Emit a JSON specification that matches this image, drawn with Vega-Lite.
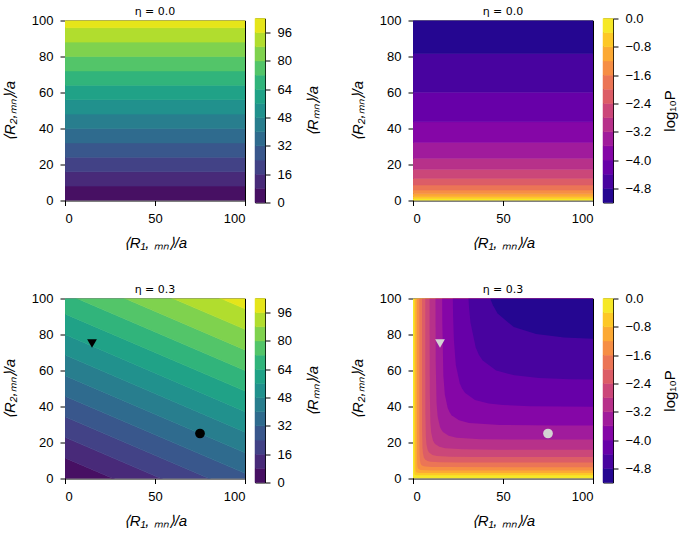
{
  "$schema": "https://vega.github.io/schema/vega-lite/v6.json",
  "padding": {"left": 1, "top": 4.5, "right": 0, "bottom": 0},
  "background": "white",
  "columns": 5,
  "align": "each",
  "bounds": "flush",
  "center": true,
  "spacing": {"row": 96, "column": 10},
  "resolve": {"scale": {"color": "independent", "stroke": "independent", "x": "independent", "y": "independent", "shape": "independent"}},
  "datasets": {
    "bandsR": [
      {"lo": 0, "hi": 8, "R": 4}, {"lo": 8, "hi": 16, "R": 12}, {"lo": 16, "hi": 24, "R": 20},
      {"lo": 24, "hi": 32, "R": 28}, {"lo": 32, "hi": 40, "R": 36}, {"lo": 40, "hi": 48, "R": 44},
      {"lo": 48, "hi": 56, "R": 52}, {"lo": 56, "hi": 64, "R": 60}, {"lo": 64, "hi": 72, "R": 68},
      {"lo": 72, "hi": 80, "R": 76}, {"lo": 80, "hi": 88, "R": 84}, {"lo": 88, "hi": 96, "R": 92},
      {"lo": 96, "hi": 104, "R": 100}
    ],
    "bandsP0": [
      {"lo": 0, "hi": 1.1, "P": -0.2}, {"lo": 1.1, "hi": 2.2, "P": -0.6}, {"lo": 2.2, "hi": 3.7, "P": -1.0},
      {"lo": 3.7, "hi": 5.8, "P": -1.4}, {"lo": 5.8, "hi": 8.6, "P": -1.8}, {"lo": 8.6, "hi": 12.3, "P": -2.2},
      {"lo": 12.3, "hi": 17.4, "P": -2.6}, {"lo": 17.4, "hi": 23.5, "P": -3.0}, {"lo": 23.5, "hi": 32.3, "P": -3.4},
      {"lo": 32.3, "hi": 43.8, "P": -3.8}, {"lo": 43.8, "hi": 60.2, "P": -4.2}, {"lo": 60.2, "hi": 81.7, "P": -4.6},
      {"lo": 81.7, "hi": 100, "P": -5.0}
    ],
    "cbP": [
      {"lo": -5.2, "hi": -4.8, "P": -5.0}, {"lo": -4.8, "hi": -4.4, "P": -4.6}, {"lo": -4.4, "hi": -4.0, "P": -4.2},
      {"lo": -4.0, "hi": -3.6, "P": -3.8}, {"lo": -3.6, "hi": -3.2, "P": -3.4}, {"lo": -3.2, "hi": -2.8, "P": -3.0},
      {"lo": -2.8, "hi": -2.4, "P": -2.6}, {"lo": -2.4, "hi": -2.0, "P": -2.2}, {"lo": -2.0, "hi": -1.6, "P": -1.8},
      {"lo": -1.6, "hi": -1.2, "P": -1.4}, {"lo": -1.2, "hi": -0.8, "P": -1.0}, {"lo": -0.8, "hi": -0.4, "P": -0.6},
      {"lo": -0.4, "hi": 0.0, "P": -0.2}
    ],
    "bandsR3": [
      {"c": 0, "R": 4, "x": 0, "lo": 0, "hi": 11.43}, {"c": 0, "R": 4, "x": 100, "lo": -42.86, "hi": -31.43},
      {"c": 8, "R": 12, "x": 0, "lo": 11.43, "hi": 22.86}, {"c": 8, "R": 12, "x": 100, "lo": -31.43, "hi": -20},
      {"c": 16, "R": 20, "x": 0, "lo": 22.86, "hi": 34.29}, {"c": 16, "R": 20, "x": 100, "lo": -20, "hi": -8.57},
      {"c": 24, "R": 28, "x": 0, "lo": 34.29, "hi": 45.71}, {"c": 24, "R": 28, "x": 100, "lo": -8.57, "hi": 2.86},
      {"c": 32, "R": 36, "x": 0, "lo": 45.71, "hi": 57.14}, {"c": 32, "R": 36, "x": 100, "lo": 2.86, "hi": 14.29},
      {"c": 40, "R": 44, "x": 0, "lo": 57.14, "hi": 68.57}, {"c": 40, "R": 44, "x": 100, "lo": 14.29, "hi": 25.71},
      {"c": 48, "R": 52, "x": 0, "lo": 68.57, "hi": 80}, {"c": 48, "R": 52, "x": 100, "lo": 25.71, "hi": 37.14},
      {"c": 56, "R": 60, "x": 0, "lo": 80, "hi": 91.43}, {"c": 56, "R": 60, "x": 100, "lo": 37.14, "hi": 48.57},
      {"c": 64, "R": 68, "x": 0, "lo": 91.43, "hi": 102.86}, {"c": 64, "R": 68, "x": 100, "lo": 48.57, "hi": 60},
      {"c": 72, "R": 76, "x": 0, "lo": 102.86, "hi": 114.29}, {"c": 72, "R": 76, "x": 100, "lo": 60, "hi": 71.43},
      {"c": 80, "R": 84, "x": 0, "lo": 114.29, "hi": 125.71}, {"c": 80, "R": 84, "x": 100, "lo": 71.43, "hi": 82.86},
      {"c": 88, "R": 92, "x": 0, "lo": 125.71, "hi": 137.14}, {"c": 88, "R": 92, "x": 100, "lo": 82.86, "hi": 94.29},
      {"c": 96, "R": 100, "x": 0, "lo": 137.14, "hi": 148.57}, {"c": 96, "R": 100, "x": 100, "lo": 94.29, "hi": 105.71}
    ],
    "curves": [
      {"l": -0.4, "x": 0.7, "y": 100}, {"l": -0.4, "x": 0.702, "y": 9}, {"l": -0.4, "x": 0.71, "y": 5.4}, {"l": -0.4, "x": 0.74, "y": 3.5}, {"l": -0.4, "x": 0.77, "y": 2.86}, {"l": -0.4, "x": 0.84, "y": 2.4}, {"l": -0.4, "x": 0.88, "y": 2.27}, {"l": -0.4, "x": 0.93, "y": 2.16}, {"l": -0.4, "x": 1.11, "y": 1.98}, {"l": -0.4, "x": 1.36, "y": 1.89}, {"l": -0.4, "x": 2.1, "y": 1.82}, {"l": -0.4, "x": 3.5, "y": 1.8}, {"l": -0.4, "x": 100, "y": 1.8},
      {"l": -0.8, "x": 1.3, "y": 100}, {"l": -0.8, "x": 1.305, "y": 15}, {"l": -0.8, "x": 1.32, "y": 9}, {"l": -0.8, "x": 1.37, "y": 5.83}, {"l": -0.8, "x": 1.43, "y": 4.77}, {"l": -0.8, "x": 1.56, "y": 4.0}, {"l": -0.8, "x": 1.64, "y": 3.78}, {"l": -0.8, "x": 1.73, "y": 3.6}, {"l": -0.8, "x": 2.07, "y": 3.3}, {"l": -0.8, "x": 2.53, "y": 3.15}, {"l": -0.8, "x": 3.9, "y": 3.04}, {"l": -0.8, "x": 6.5, "y": 3.01}, {"l": -0.8, "x": 100, "y": 3.0},
      {"l": -1.2, "x": 2.2, "y": 100}, {"l": -1.2, "x": 2.21, "y": 22.5}, {"l": -1.2, "x": 2.23, "y": 13.5}, {"l": -1.2, "x": 2.31, "y": 8.74}, {"l": -1.2, "x": 2.42, "y": 7.16}, {"l": -1.2, "x": 2.64, "y": 6.0}, {"l": -1.2, "x": 2.77, "y": 5.67}, {"l": -1.2, "x": 2.93, "y": 5.4}, {"l": -1.2, "x": 3.5, "y": 4.95}, {"l": -1.2, "x": 4.27, "y": 4.73}, {"l": -1.2, "x": 6.6, "y": 4.56}, {"l": -1.2, "x": 11, "y": 4.51}, {"l": -1.2, "x": 100, "y": 4.5},
      {"l": -1.6, "x": 3.5, "y": 100}, {"l": -1.6, "x": 3.51, "y": 31.5}, {"l": -1.6, "x": 3.54, "y": 18.9}, {"l": -1.6, "x": 3.68, "y": 12.24}, {"l": -1.6, "x": 3.85, "y": 10.02}, {"l": -1.6, "x": 4.2, "y": 8.4}, {"l": -1.6, "x": 4.41, "y": 7.94}, {"l": -1.6, "x": 4.67, "y": 7.56}, {"l": -1.6, "x": 5.57, "y": 6.93}, {"l": -1.6, "x": 6.8, "y": 6.62}, {"l": -1.6, "x": 10.5, "y": 6.38}, {"l": -1.6, "x": 17.5, "y": 6.32}, {"l": -1.6, "x": 100, "y": 6.3},
      {"l": -2.0, "x": 5.0, "y": 100}, {"l": -2.0, "x": 5.01, "y": 44.5}, {"l": -2.0, "x": 5.06, "y": 26.7}, {"l": -2.0, "x": 5.25, "y": 17.3}, {"l": -2.0, "x": 5.5, "y": 14.15}, {"l": -2.0, "x": 6.0, "y": 11.87}, {"l": -2.0, "x": 6.3, "y": 11.21}, {"l": -2.0, "x": 6.67, "y": 10.68}, {"l": -2.0, "x": 7.95, "y": 9.79}, {"l": -2.0, "x": 9.72, "y": 9.35}, {"l": -2.0, "x": 15, "y": 9.01}, {"l": -2.0, "x": 25, "y": 8.92}, {"l": -2.0, "x": 100, "y": 8.9},
      {"l": -2.4, "x": 6.8, "y": 100}, {"l": -2.4, "x": 6.82, "y": 59.5}, {"l": -2.4, "x": 6.89, "y": 35.7}, {"l": -2.4, "x": 7.14, "y": 23.1}, {"l": -2.4, "x": 7.48, "y": 18.9}, {"l": -2.4, "x": 8.16, "y": 15.9}, {"l": -2.4, "x": 8.57, "y": 15.0}, {"l": -2.4, "x": 9.07, "y": 14.3}, {"l": -2.4, "x": 10.81, "y": 13.1}, {"l": -2.4, "x": 13.21, "y": 12.5}, {"l": -2.4, "x": 20.4, "y": 12.05}, {"l": -2.4, "x": 34, "y": 11.93}, {"l": -2.4, "x": 100, "y": 11.9},
      {"l": -2.8, "x": 9.2, "y": 100}, {"l": -2.8, "x": 9.22, "y": 80}, {"l": -2.8, "x": 9.32, "y": 48}, {"l": -2.8, "x": 9.66, "y": 31.1}, {"l": -2.8, "x": 10.12, "y": 25.4}, {"l": -2.8, "x": 11.04, "y": 21.3}, {"l": -2.8, "x": 11.59, "y": 20.2}, {"l": -2.8, "x": 12.27, "y": 19.2}, {"l": -2.8, "x": 14.63, "y": 17.6}, {"l": -2.8, "x": 17.88, "y": 16.8}, {"l": -2.8, "x": 27.6, "y": 16.2}, {"l": -2.8, "x": 46, "y": 16.04}, {"l": -2.8, "x": 100, "y": 16.0},
      {"l": -3.2, "x": 12.5, "y": 100}, {"l": -3.2, "x": 12.62, "y": 64.8}, {"l": -3.2, "x": 13.08, "y": 41.95}, {"l": -3.2, "x": 13.71, "y": 34.3}, {"l": -3.2, "x": 14.95, "y": 28.8}, {"l": -3.2, "x": 15.7, "y": 27.2}, {"l": -3.2, "x": 16.62, "y": 25.9}, {"l": -3.2, "x": 19.81, "y": 23.75}, {"l": -3.2, "x": 24.21, "y": 22.67}, {"l": -3.2, "x": 37.4, "y": 21.86}, {"l": -3.2, "x": 62.3, "y": 21.65}, {"l": -3.2, "x": 100, "y": 21.6},
      {"l": -3.6, "x": 16.2, "y": 100}, {"l": -3.6, "x": 16.26, "y": 88.1}, {"l": -3.6, "x": 16.86, "y": 57.05}, {"l": -3.6, "x": 17.67, "y": 46.7}, {"l": -3.6, "x": 19.27, "y": 39.17}, {"l": -3.6, "x": 20.24, "y": 37.0}, {"l": -3.6, "x": 21.42, "y": 35.2}, {"l": -3.6, "x": 25.54, "y": 32.3}, {"l": -3.6, "x": 31.2, "y": 30.83}, {"l": -3.6, "x": 48.2, "y": 29.73}, {"l": -3.6, "x": 80.3, "y": 29.44}, {"l": -3.6, "x": 100, "y": 29.4},
      {"l": -4.0, "x": 22.1, "y": 100}, {"l": -4.0, "x": 22.29, "y": 90}, {"l": -4.0, "x": 22.71, "y": 77.06}, {"l": -4.0, "x": 23.79, "y": 63.06}, {"l": -4.0, "x": 25.96, "y": 52.9}, {"l": -4.0, "x": 27.25, "y": 49.97}, {"l": -4.0, "x": 28.85, "y": 47.6}, {"l": -4.0, "x": 34.4, "y": 43.6}, {"l": -4.0, "x": 42.03, "y": 41.64}, {"l": -4.0, "x": 50, "y": 40.79}, {"l": -4.0, "x": 64.9, "y": 40.16}, {"l": -4.0, "x": 100, "y": 39.8},
      {"l": -4.4, "x": 30.8, "y": 100}, {"l": -4.4, "x": 31.13, "y": 95}, {"l": -4.4, "x": 31.93, "y": 86.7}, {"l": -4.4, "x": 34.84, "y": 72.8}, {"l": -4.4, "x": 36.58, "y": 68.7}, {"l": -4.4, "x": 38.73, "y": 65.5}, {"l": -4.4, "x": 46.2, "y": 60.0}, {"l": -4.4, "x": 56.4, "y": 57.3}, {"l": -4.4, "x": 70, "y": 55.9}, {"l": -4.4, "x": 87.1, "y": 55.2}, {"l": -4.4, "x": 100, "y": 55.0},
      {"l": -4.8, "x": 42.9, "y": 100}, {"l": -4.8, "x": 44.4, "y": 96.3}, {"l": -4.8, "x": 47.0, "y": 91.7}, {"l": -4.8, "x": 56.0, "y": 84.1}, {"l": -4.8, "x": 68.4, "y": 80.3}, {"l": -4.8, "x": 84, "y": 78.4}, {"l": -4.8, "x": 100, "y": 77.6}
    ],
    "markers": [
      {"k": "tri", "x": 15, "y": 75},
      {"k": "dot", "x": 75, "y": 25}
    ]
  },
  "concat": [
    {
      "title": "η = 0.0",
      "width": 180, "height": 180,
      "data": {"name": "bandsR"},
      "mark": {"type": "rect", "clip": true, "strokeWidth": 0.6},
      "encoding": {
        "x": {"datum": 0, "type": "quantitative", "scale": {"domain": [0, 100], "nice": false, "zero": false}, "axis": {"values": [0, 50, 100], "title": "⟨R₁, ₘₙ⟩/a"}},
        "x2": {"datum": 100},
        "y": {"field": "lo", "type": "quantitative", "scale": {"domain": [0, 100], "nice": false, "zero": false}, "axis": {"values": [0, 20, 40, 60, 80, 100], "title": "⟨R₂,ₘₙ⟩/a"}},
        "y2": {"field": "hi"},
        "color": {"field": "R", "type": "quantitative", "scale": {"scheme": "viridis", "domain": [0, 104], "nice": false, "zero": false}, "legend": null},
        "stroke": {"field": "R", "type": "quantitative", "scale": {"scheme": "viridis", "domain": [0, 104], "nice": false, "zero": false}, "legend": null}
      }
    },
    {
      "width": 10, "height": 184,
      "data": {"name": "bandsR"},
      "mark": {"type": "rect", "strokeWidth": 0.5},
      "encoding": {
        "y": {"field": "lo", "type": "quantitative", "scale": {"domain": [0, 104], "nice": false, "zero": false}, "axis": {"orient": "right", "values": [0, 16, 32, 48, 64, 80, 96], "title": "⟨Rₘₙ⟩/a", "titleAngle": 270, "titleBaseline": "top", "titlePadding": 14}},
        "y2": {"field": "hi"},
        "color": {"field": "R", "type": "quantitative", "scale": {"scheme": "viridis", "domain": [0, 104], "nice": false, "zero": false}, "legend": null},
        "stroke": {"field": "R", "type": "quantitative", "scale": {"scheme": "viridis", "domain": [0, 104], "nice": false, "zero": false}, "legend": null}
      }
    },
    {
      "width": 127.3, "height": 10,
      "view": {"stroke": null},
      "data": {"values": []},
      "mark": "point",
      "encoding": {}
    },
    {
      "title": "η = 0.0",
      "width": 180, "height": 180,
      "data": {"name": "bandsP0"},
      "mark": {"type": "rect", "clip": true, "strokeWidth": 0.6},
      "encoding": {
        "x": {"datum": 0, "type": "quantitative", "scale": {"domain": [0, 100], "nice": false, "zero": false}, "axis": {"values": [0, 50, 100], "title": "⟨R₁, ₘₙ⟩/a"}},
        "x2": {"datum": 100},
        "y": {"field": "lo", "type": "quantitative", "scale": {"domain": [0, 100], "nice": false, "zero": false}, "axis": {"values": [0, 20, 40, 60, 80, 100], "title": "⟨R₂,ₘₙ⟩/a"}},
        "y2": {"field": "hi"},
        "color": {"field": "P", "type": "quantitative", "scale": {"scheme": "plasma", "domain": [-5.2, 0], "nice": false, "zero": false}, "legend": null},
        "stroke": {"field": "P", "type": "quantitative", "scale": {"scheme": "plasma", "domain": [-5.2, 0], "nice": false, "zero": false}, "legend": null}
      }
    },
    {
      "width": 10, "height": 184,
      "data": {"name": "cbP"},
      "mark": {"type": "rect", "strokeWidth": 0.5},
      "encoding": {
        "y": {"field": "lo", "type": "quantitative", "scale": {"domain": [-5.2, 0], "nice": false, "zero": false}, "axis": {"orient": "right", "values": [-4.8, -4.0, -3.2, -2.4, -1.6, -0.8, 0], "format": ".1f", "title": "log₁₀P", "titleFontStyle": "normal", "titleAngle": 270, "titleBaseline": "top", "titlePadding": 12}},
        "y2": {"field": "hi"},
        "color": {"field": "P", "type": "quantitative", "scale": {"scheme": "plasma", "domain": [-5.2, 0], "nice": false, "zero": false}, "legend": null},
        "stroke": {"field": "P", "type": "quantitative", "scale": {"scheme": "plasma", "domain": [-5.2, 0], "nice": false, "zero": false}, "legend": null}
      }
    },
    {
      "title": "η = 0.3",
      "width": 180, "height": 180,
      "layer": [
        {
          "data": {"name": "bandsR3"},
          "mark": {"type": "area", "clip": true, "strokeWidth": 0.6},
          "encoding": {
            "x": {"field": "x", "type": "quantitative", "scale": {"domain": [0, 100], "nice": false, "zero": false}, "axis": {"values": [0, 50, 100], "title": "⟨R₁, ₘₙ⟩/a"}},
            "y": {"field": "lo", "type": "quantitative", "stack": null, "scale": {"domain": [0, 100], "nice": false, "zero": false}, "axis": {"values": [0, 20, 40, 60, 80, 100], "title": "⟨R₂,ₘₙ⟩/a"}},
            "y2": {"field": "hi"},
            "detail": {"field": "c"},
            "color": {"field": "R", "type": "quantitative", "scale": {"scheme": "viridis", "domain": [0, 104], "nice": false, "zero": false}, "legend": null},
            "stroke": {"field": "R", "type": "quantitative", "scale": {"scheme": "viridis", "domain": [0, 104], "nice": false, "zero": false}, "legend": null}
          }
        },
        {
          "data": {"name": "markers"},
          "mark": {"type": "point", "filled": true, "opacity": 1, "size": 95, "color": "#000000", "strokeWidth": 0},
          "encoding": {
            "x": {"field": "x", "type": "quantitative", "scale": {"domain": [0, 100], "nice": false, "zero": false}, "axis": {"values": [0, 50, 100], "title": "⟨R₁, ₘₙ⟩/a"}},
            "y": {"field": "y", "type": "quantitative", "scale": {"domain": [0, 100], "nice": false, "zero": false}, "axis": {"values": [0, 20, 40, 60, 80, 100], "title": "⟨R₂,ₘₙ⟩/a"}},
            "shape": {"field": "k", "type": "nominal", "scale": {"domain": ["tri", "dot"], "range": ["triangle-down", "circle"]}, "legend": null}
          }
        }
      ]
    },
    {
      "width": 10, "height": 184,
      "data": {"name": "bandsR"},
      "mark": {"type": "rect", "strokeWidth": 0.5},
      "encoding": {
        "y": {"field": "lo", "type": "quantitative", "scale": {"domain": [0, 104], "nice": false, "zero": false}, "axis": {"orient": "right", "values": [0, 16, 32, 48, 64, 80, 96], "title": "⟨Rₘₙ⟩/a", "titleAngle": 270, "titleBaseline": "top", "titlePadding": 14}},
        "y2": {"field": "hi"},
        "color": {"field": "R", "type": "quantitative", "scale": {"scheme": "viridis", "domain": [0, 104], "nice": false, "zero": false}, "legend": null},
        "stroke": {"field": "R", "type": "quantitative", "scale": {"scheme": "viridis", "domain": [0, 104], "nice": false, "zero": false}, "legend": null}
      }
    },
    {
      "width": 127.3, "height": 10,
      "view": {"stroke": null},
      "data": {"values": []},
      "mark": "point",
      "encoding": {}
    },
    {
      "title": "η = 0.3",
      "width": 180, "height": 180,
      "layer": [
        {
          "data": {"values": [{"l": 0}]},
          "mark": {"type": "rect", "clip": true},
          "encoding": {
            "x": {"datum": 0, "type": "quantitative", "scale": {"domain": [0, 100], "nice": false, "zero": false}, "axis": {"values": [0, 50, 100], "title": "⟨R₁, ₘₙ⟩/a"}},
            "x2": {"datum": 100},
            "y": {"datum": 0, "type": "quantitative", "scale": {"domain": [0, 100], "nice": false, "zero": false}, "axis": {"values": [0, 20, 40, 60, 80, 100], "title": "⟨R₂,ₘₙ⟩/a"}},
            "y2": {"datum": 100},
            "color": {"field": "l", "type": "quantitative", "scale": {"scheme": "plasma", "domain": [-5.0, 0.2], "nice": false, "zero": false}, "legend": null}
          }
        },
        {
          "data": {"name": "curves"},
          "mark": {"type": "area", "clip": true},
          "encoding": {
            "x": {"field": "x", "type": "quantitative", "scale": {"domain": [0, 100], "nice": false, "zero": false}, "axis": {"values": [0, 50, 100], "title": "⟨R₁, ₘₙ⟩/a"}},
            "y": {"field": "y", "type": "quantitative", "stack": null, "scale": {"domain": [0, 100], "nice": false, "zero": false}, "axis": {"values": [0, 20, 40, 60, 80, 100], "title": "⟨R₂,ₘₙ⟩/a"}},
            "y2": {"datum": 100},
            "detail": {"field": "l"},
            "color": {"field": "l", "type": "quantitative", "scale": {"scheme": "plasma", "domain": [-5.0, 0.2], "nice": false, "zero": false}, "legend": null}
          }
        },
        {
          "data": {"name": "markers"},
          "mark": {"type": "point", "filled": true, "opacity": 1, "size": 95, "color": "#d3d3d3", "strokeWidth": 0},
          "encoding": {
            "x": {"field": "x", "type": "quantitative", "scale": {"domain": [0, 100], "nice": false, "zero": false}, "axis": {"values": [0, 50, 100], "title": "⟨R₁, ₘₙ⟩/a"}},
            "y": {"field": "y", "type": "quantitative", "scale": {"domain": [0, 100], "nice": false, "zero": false}, "axis": {"values": [0, 20, 40, 60, 80, 100], "title": "⟨R₂,ₘₙ⟩/a"}},
            "shape": {"field": "k", "type": "nominal", "scale": {"domain": ["tri", "dot"], "range": ["triangle-down", "circle"]}, "legend": null}
          }
        }
      ]
    },
    {
      "width": 10, "height": 184,
      "data": {"name": "cbP"},
      "mark": {"type": "rect", "strokeWidth": 0.5},
      "encoding": {
        "y": {"field": "lo", "type": "quantitative", "scale": {"domain": [-5.2, 0], "nice": false, "zero": false}, "axis": {"orient": "right", "values": [-4.8, -4.0, -3.2, -2.4, -1.6, -0.8, 0], "format": ".1f", "title": "log₁₀P", "titleFontStyle": "normal", "titleAngle": 270, "titleBaseline": "top", "titlePadding": 12}},
        "y2": {"field": "hi"},
        "color": {"field": "P", "type": "quantitative", "scale": {"scheme": "plasma", "domain": [-5.2, 0], "nice": false, "zero": false}, "legend": null},
        "stroke": {"field": "P", "type": "quantitative", "scale": {"scheme": "plasma", "domain": [-5.2, 0], "nice": false, "zero": false}, "legend": null}
      }
    }
  ],
  "config": {
    "font": "Liberation Sans",
    "view": {"stroke": "#000000", "strokeWidth": 1},
    "axis": {
      "domain": false, "grid": false, "ticks": true, "tickColor": "#000000", "tickSize": 5, "tickWidth": 1,
      "labelColor": "#000000", "labelFontSize": 13, "labelFont": "Liberation Sans", "labelPadding": 7,
      "titleFont": "Liberation Sans", "titleFontSize": 15, "titleFontWeight": "normal", "titleFontStyle": "italic", "titleColor": "#000000"
    },
    "axisX": {"titlePadding": 10},
    "axisLeft": {"titlePadding": 14},
    "title": {"fontSize": 11, "fontWeight": "normal", "color": "#000000", "offset": -2, "font": "DejaVu Sans"}
  }
}
